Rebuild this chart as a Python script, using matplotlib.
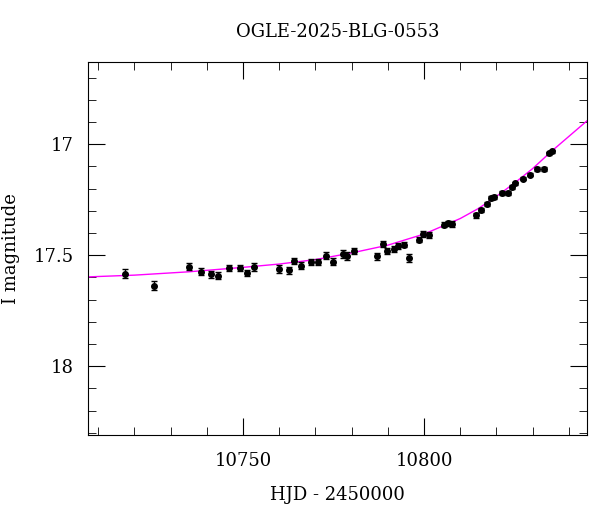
import numpy as np
import matplotlib
matplotlib.use("Agg")
import matplotlib.pyplot as plt
from matplotlib.ticker import MultipleLocator

# photometry (HJD - 2450000, I mag, error)
hjd = [10717.5, 10725.4, 10735.2, 10738.3, 10741.1, 10743.2, 10746.2, 10749.1,
       10751.1, 10753.0, 10759.9, 10762.8, 10764.0, 10766.0, 10768.8, 10770.8,
       10772.9, 10774.8, 10777.7, 10778.8, 10780.7, 10786.9, 10788.7, 10789.8,
       10791.6, 10792.8, 10794.6, 10795.8, 10798.6, 10799.7, 10801.4, 10805.4,
       10806.5, 10807.6, 10814.4, 10815.6, 10817.3, 10818.4, 10819.4, 10821.4,
       10823.2, 10824.3, 10825.2, 10827.3, 10829.3, 10831.2, 10833.1, 10834.4,
       10835.2]
mag = [17.583, 17.638, 17.553, 17.575, 17.587, 17.593, 17.557, 17.559,
       17.580, 17.553, 17.562, 17.568, 17.527, 17.548, 17.530, 17.530,
       17.503, 17.529, 17.494, 17.502, 17.480, 17.506, 17.449, 17.482,
       17.473, 17.459, 17.452, 17.515, 17.431, 17.405, 17.410, 17.362,
       17.357, 17.360, 17.321, 17.297, 17.270, 17.242, 17.239, 17.219,
       17.218, 17.192, 17.177, 17.155, 17.137, 17.111, 17.111, 17.042,
       17.033]
err = [0.020, 0.020, 0.016, 0.015, 0.015, 0.015, 0.014, 0.014,
       0.015, 0.017, 0.017, 0.016, 0.015, 0.015, 0.013, 0.013,
       0.016, 0.015, 0.017, 0.018, 0.014, 0.016, 0.015, 0.013,
       0.013, 0.013, 0.012, 0.018, 0.011, 0.013, 0.013, 0.012,
       0.012, 0.012, 0.011, 0.010, 0.009, 0.010, 0.010, 0.009,
       0.009, 0.009, 0.008, 0.008, 0.007, 0.008, 0.010, 0.007,
       0.007]

# model curve
model_t = [10707, 10720, 10735, 10750, 10760, 10770, 10780, 10790, 10800,
           10805, 10810, 10815, 10820, 10825, 10830, 10835, 10840, 10845]
model_m = [17.598, 17.590, 17.575, 17.555, 17.540, 17.520, 17.490, 17.455,
           17.405, 17.370, 17.335, 17.290, 17.235, 17.175, 17.110, 17.035,
           16.965, 16.895]

plt.rcParams["font.family"] = "DejaVu Serif"
fig = plt.figure(figsize=(6.0, 5.12), dpi=100)
ax = fig.add_axes([88 / 600, 1 - 435 / 512, 499 / 600, 373 / 512])

ax.plot(model_t, model_m, color="magenta", lw=1)
ax.errorbar(hjd, mag, yerr=err, fmt="o", color="black", ms=4,
            elinewidth=1, capsize=2.5, capthick=1)

ax.set_xlim(10707.2, 10845.0)
ax.set_ylim(18.31, 16.63)
ax.xaxis.set_major_locator(MultipleLocator(50))
ax.xaxis.set_minor_locator(MultipleLocator(10))
ax.yaxis.set_major_locator(MultipleLocator(0.5))
ax.yaxis.set_minor_locator(MultipleLocator(0.1))
ax.tick_params(which="both", direction="in", top=True, right=True,
               labelsize=13)
ax.tick_params(axis="x", pad=12)
ax.tick_params(axis="y", pad=10)
ax.tick_params(which="major", length=12)
ax.tick_params(which="minor", length=6)
ax.yaxis.set_major_formatter(plt.FuncFormatter(lambda v, p: f"{v:g}"))
ax.set_xlabel("HJD - 2450000", fontsize=13, labelpad=12)
ax.set_ylabel("I magnitude", fontsize=13, labelpad=10)
ax.set_title("OGLE-2025-BLG-0553", fontsize=13, pad=18)

fig.savefig("out.png", dpi=100)
